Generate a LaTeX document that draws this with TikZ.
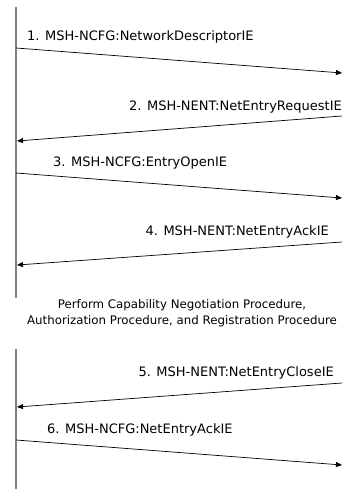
\documentclass[tikz,border=0pt]{standalone}
\usepackage{fontspec}
\setmainfont{DejaVu Sans}
\usetikzlibrary{arrows.meta}
\begin{document}
\begin{tikzpicture}[x=1pt,y=-1pt,
  lifeline/.style={draw=black!50, line width=1.8pt},
  msg/.style={draw=black, line width=0.7pt, -{Triangle[length=6pt,width=5pt]}},
  lbl/.style={font=\fontsize{13}{15}\selectfont, inner sep=0pt},
  note/.style={font=\fontsize{11.8}{16}\selectfont, inner sep=0pt, align=center}]
\useasboundingbox (0,0) rectangle (342,489);
% lifeline coordinates
\coordinate (la) at (16,7);
\coordinate (lb) at (16,298);
\coordinate (lc) at (16,349);
\coordinate (ld) at (16,489);
\draw[lifeline] (la) -- (lb);
\draw[lifeline] (lc) -- (ld);
% message end points
\coordinate (m1s) at (16,48);  \coordinate (m1e) at (342,73);
\coordinate (m2s) at (342,116); \coordinate (m2e) at (17,141);
\coordinate (m3s) at (16,173); \coordinate (m3e) at (342,198);
\coordinate (m4s) at (342,242); \coordinate (m4e) at (17,265);
\coordinate (m5s) at (342,383); \coordinate (m5e) at (17,407);
\coordinate (m6s) at (16,440); \coordinate (m6e) at (342,465);
\draw[msg] (m1s) -- (m1e);
\draw[msg] (m2s) -- (m2e);
\draw[msg] (m3s) -- (m3e);
\draw[msg] (m4s) -- (m4e);
\draw[msg] (m5s) -- (m5e);
\draw[msg] (m6s) -- (m6e);
% labels
\node[lbl, anchor=west] (t1) at (27,37) {1. MSH-NCFG:NetworkDescriptorIE};
\node[lbl, anchor=east] (t2) at (342,107) {2. MSH-NENT:NetEntryRequestIE};
\node[lbl, anchor=west] (t3) at (53,163) {3. MSH-NCFG:EntryOpenIE};
\node[lbl, anchor=east] (t4) at (329,232) {4. MSH-NENT:NetEntryAckIE};
\node[note] (nt) at (182,313.5) {Perform Capability Negotiation Procedure,\\Authorization Procedure, and Registration Procedure};
\node[lbl, anchor=east] (t5) at (334,373) {5. MSH-NENT:NetEntryCloseIE};
\node[lbl, anchor=west] (t6) at (47,430) {6. MSH-NCFG:NetEntryAckIE};
\end{tikzpicture}
\end{document}
